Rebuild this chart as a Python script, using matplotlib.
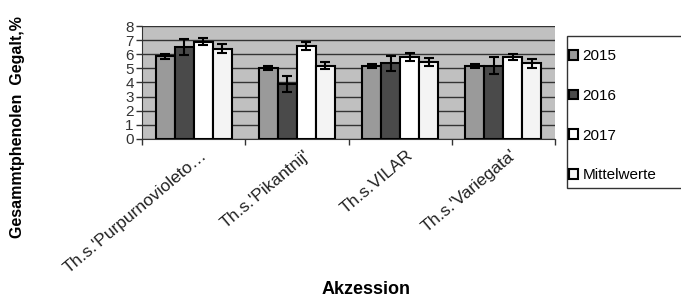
import matplotlib
matplotlib.use("Agg")
import matplotlib.pyplot as plt
from matplotlib.patches import Rectangle
import numpy as np

plt.rcParams['font.family'] = ['Liberation Sans', 'DejaVu Sans']

# ---- data ----
accessions = ["Th.s.'Purpurnovioleto\u2026", "Th.s.'Pikantnij'", "Th.s.VILAR", "Th.s.'Variegata'"]
years = ["2015", "2016", "2017", "Mittelwerte"]
v2015 = [5.85, 5.05, 5.15, 5.15]
v2016 = [6.5, 3.9, 5.35, 5.2]
v2017 = [6.9, 6.6, 5.8, 5.8]
vmean = [6.4, 5.2, 5.45, 5.35]
e2015 = [0.2, 0.15, 0.15, 0.15]
e2016 = [0.55, 0.55, 0.55, 0.6]
e2017 = [0.25, 0.3, 0.3, 0.2]
emean = [0.3, 0.25, 0.3, 0.3]
yticks = [0, 1, 2, 3, 4, 5, 6, 7, 8]

values = [v2015, v2016, v2017, vmean]
errors = [e2015, e2016, e2017, emean]
colors = ["#9a9a9a", "#4a4a4a", "#ffffff", "#f4f4f4"]

fig = plt.figure(figsize=(6.81, 3.0), dpi=100)
ax = fig.add_axes([0.2085, 0.537, 0.6065, 0.376])
ax.set_facecolor("#c0c0c0")

x = np.arange(len(accessions))
w = 0.184
for i, (vals, errs, col) in enumerate(zip(values, errors, colors)):
    ax.bar(x + (i - 1.5) * w, vals, w, color=col, edgecolor="black", linewidth=1.5,
           yerr=errs, error_kw=dict(ecolor="black", elinewidth=1.5, capsize=3.5, capthick=1.5),
           label=years[i], zorder=3)

ax.set_ylim(0, 8)
ax.set_xlim(-0.5, len(accessions) - 0.5)
ax.set_yticks(yticks)
ax.yaxis.grid(True, color="#333333", linewidth=1.0, zorder=0)
ax.set_axisbelow(True)
ax.tick_params(axis="y", length=4, width=1, color="#333333", labelsize=11, labelcolor="#333333", pad=2)

# category boundary ticks, labels at group centres
ax.set_xticks(np.arange(-0.5, len(accessions) + 0.5, 1.0))
ax.set_xticklabels([])
ax.tick_params(axis="x", length=4, width=1, color="#333333")
for xi, lab in zip(x, accessions):
    ax.text(xi + 0.06, -0.6, lab, rotation=40, rotation_mode="anchor", ha="right", va="top",
            fontsize=12.5, color="#222222", transform=ax.transData, clip_on=False)

for side in ["top", "right"]:
    ax.spines[side].set_visible(False)
ax.spines["left"].set_color("#333333")
ax.spines["bottom"].set_color("#333333")

fig.text(0.025, 0.575, "Gesammtphenolen  Gegalt,%", rotation=90, ha="center", va="center",
         fontsize=11.5, fontweight="bold")
fig.text(0.538, 0.035, "Akzession", ha="center", va="center", fontsize=13, fontweight="bold")

# legend frame runs off the right edge like the original
fig.patches.append(Rectangle((0.8326, 0.373), 0.3, 0.507, transform=fig.transFigure,
                             facecolor="white", edgecolor="#333333", linewidth=1.0))
leg = fig.legend(loc="upper left", bbox_to_anchor=(0.835, 0.835), frameon=False,
                 fontsize=11, handlelength=0.6, handleheight=0.6, handletextpad=0.3,
                 labelspacing=1.67, borderpad=0, borderaxespad=0)
for h in leg.legend_handles:
    h.set_linewidth(1.5)

fig.savefig("out.png", dpi=100)
